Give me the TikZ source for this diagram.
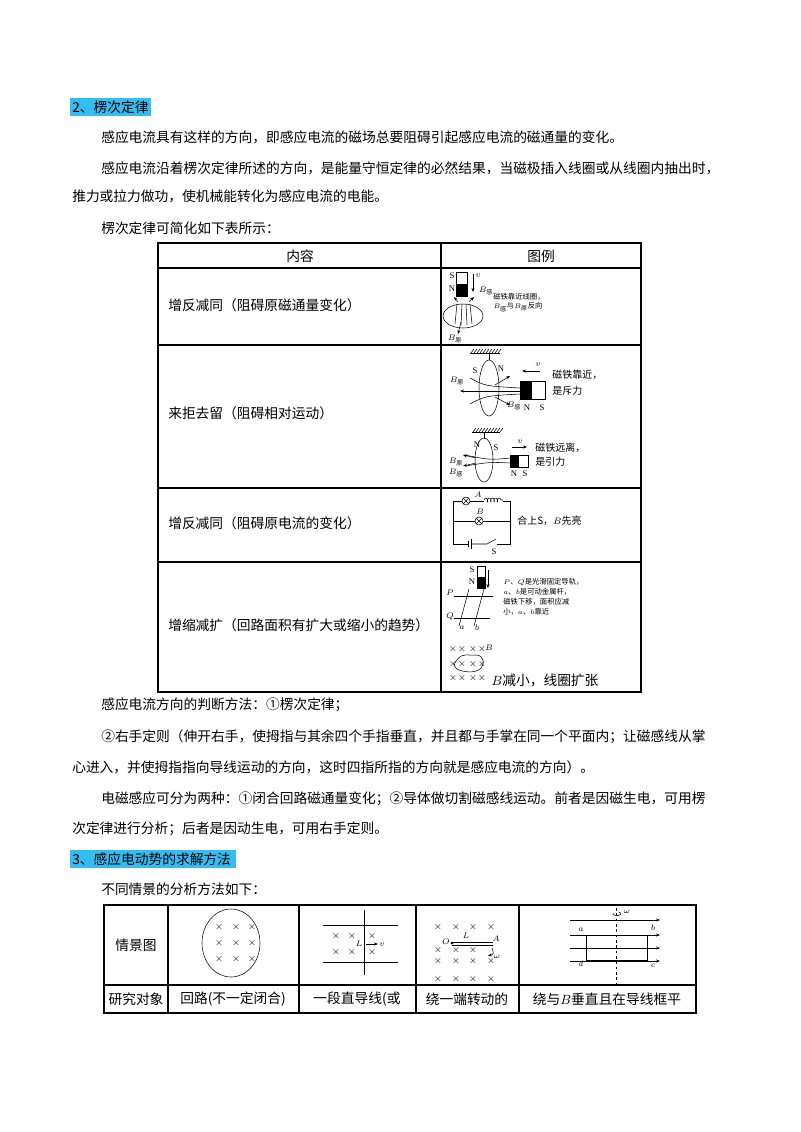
\documentclass[tikz,border=0pt]{standalone}
\usepackage{fontspec}
\setmainfont{Liberation Serif}
\newfontfamily\cjk{Noto Sans CJK SC}
\newcommand\zh[1]{\mbox{\cjk\fontsize{4.5}{5}\selectfont #1}}
\usetikzlibrary{arrows.meta,patterns,decorations.pathmorphing}
\begin{document}
\begin{tikzpicture}[x=0.75pt,y=-0.75pt,
  txt/.style={anchor=west,inner sep=0,font=\cjk\fontsize{10.3}{12}\selectfont},
  ctr/.style={inner sep=0,font=\cjk\fontsize{10.3}{12}\selectfont},
  tiny/.style={anchor=west,inner sep=0,font=\cjk\fontsize{5.5}{6.5}\selectfont},
  sm/.style={anchor=west,inner sep=0,font=\cjk\fontsize{7.5}{9}\selectfont},
  lab/.style={inner sep=0,font=\fontsize{6.5}{7}\selectfont},
  hl/.style={fill=cyan!80!white,draw=none},
  tb/.style={line width=0.8pt},
  fine/.style={line width=0.4pt},
  arr/.style={-{Stealth[length=3pt]},line width=0.4pt},
  cr/.style={inner sep=0,font=\fontsize{7}{8}\selectfont}]
\useasboundingbox[fill=white] (0,0) rectangle (800,1132);
% headings
\fill[hl] (70,98) rectangle (151,116);
\node[txt] (h2) at (72,107) {2、楞次定律};
\node[txt] (p1) at (101,137) {感应电流具有这样的方向，即感应电流的磁场总要阻碍引起感应电流的磁通量的变化。};
\node[txt] (p2) at (101,168) {感应电流沿着楞次定律所述的方向，是能量守恒定律的必然结果，当磁极插入线圈或从线圈内抽出时，};
\node[txt] (p3) at (72,196) {推力或拉力做功，使机械能转化为感应电流的电能。};
\node[txt] (p4) at (101,228) {楞次定律可简化如下表所示：};
% table 1
\draw[tb] (158,243) rectangle (641,692);
\draw[tb] (441,243) -- (441,692);
\foreach \y in {268,345,488,562} \draw[tb] (158,\y) -- (641,\y);
\node[ctr] (t0) at (300,256) {内容};
\node[ctr] (t1) at (541,256) {图例};
\node[txt] (r1) at (168,305) {增反减同（阻碍原磁通量变化）};
\node[txt] (r2) at (168,413) {来拒去留（阻碍相对运动）};
\node[txt] (r3) at (168,523) {增反减同（阻碍原电流的变化）};
\node[txt] (r4) at (168,625) {增缩减扩（回路面积有扩大或缩小的趋势）};
% row1 figure
\draw[fine] (456,272) rectangle (467,296);
\fill (456,284) rectangle (467,296);
\node[lab] (s1) at (452,276) {S};
\node[lab] (n1) at (452,289) {N};
\draw[arr] (473,274) -- (473,292);
\node[lab] (v1) at (478,276) {$v$};
\draw[fine] (463,316) ellipse (20 and 12);
\draw[fine] (457,304) -- (455,324) (462,304) -- (461,325) (466,304) -- (467,325) (470,304) -- (472,324);
\draw[arr] (458,302) -- (454,297);
\draw[arr] (469,302) -- (474,297);
\draw[arr] (461,322) -- (458,334);
\node[lab] (b1) at (486,291) {$B_{\zh{感}}$};
\node[lab] (b2) at (455,339) {$B_{\zh{原}}$};
\node[tiny] (d1) at (493,297) {磁铁靠近线圈，};
\node[tiny] (d2) at (493,307) {$B_{\zh{感}}$与$B_{\zh{原}}$反向};
% row2 upper
\draw[fine] (470,353) -- (500,353);
\foreach \x in {471,474,...,500} \draw[fine] (\x,353) -- (\x+3,349);
\draw[fine] (489,353) -- (489,360);
\draw[fine] (489,388) ellipse (10 and 28);
\draw[arr] (520,391) -- (460,391);
\draw[fine] (470,378) .. controls (485,386) .. (520,388);
\draw[fine] (470,404) .. controls (485,396) .. (520,394);
\draw[arr] (495,385) -- (510,376);
\draw[arr] (495,397) -- (510,405);
\draw[fine] (520,381) rectangle (545,399);
\fill (520,381) rectangle (532,399);
\node[lab] (s2) at (475,371) {S};
\node[lab] (n2) at (501,369) {N};
\node[lab] (b3) at (457,381) {$B_{\zh{原}}$};
\node[lab] (b4) at (514,406) {$B_{\zh{感}}$};
\node[lab] (n3) at (527,408) {N};
\node[lab] (s3) at (542,408) {S};
\draw[arr] (540,371) -- (522,371);
\node[lab] (v2) at (538,365) {$v$};
\node[sm] (d3) at (552,375) {磁铁靠近，};
\node[sm] (d4) at (552,391) {是斥力};
% row2 lower
\draw[fine] (472,432) -- (500,432);
\foreach \x in {473,476,...,500} \draw[fine] (\x,432) -- (\x+3,428);
\draw[fine] (484,432) -- (484,439);
\draw[fine] (484,460) ellipse (9 and 22);
\draw[fine] (465,455) .. controls (490,460) .. (510,458);
\draw[fine] (465,466) .. controls (490,462) .. (510,463);
\draw[arr] (476,458) -- (463,455);
\draw[arr] (476,463) -- (463,466);
\draw[fine] (510,455) rectangle (528,467);
\fill (510,455) rectangle (519,467);
\node[lab] (n4) at (477,445) {N};
\node[lab] (s4) at (496,448) {S};
\node[lab] (b5) at (456,462) {$B_{\zh{原}}$};
\node[lab] (b6) at (456,473) {$B_{\zh{感}}$};
\node[lab] (n5) at (514,474) {N};
\node[lab] (s5) at (525,474) {S};
\draw[arr] (512,447) -- (527,447);
\node[lab] (v3) at (520,442) {$v$};
\node[sm] (d5) at (535,448) {磁铁远离，};
\node[sm] (d6) at (535,462) {是引力};
% row3 circuit
\draw[fine] (453,501) -- (453,544) -- (468,544);
\draw[fine] (468,541) -- (468,547);
\draw[fine] (471,539) -- (471,549);
\draw[fine] (471,544) -- (487,544) -- (496,539);
\draw[fine] (497,544) -- (510,544) -- (510,501);
\draw[fine] (453,501) -- (462,501);
\draw[fine] (466,501) circle (4);
\draw[fine] (463,498) -- (469,504) (469,498) -- (463,504);
\draw[fine] (470,501) -- (484,501);
\draw[fine,decorate,decoration={coil,aspect=0.5,segment length=2.5pt,amplitude=1.5pt}] (484,500) -- (503,500);
\draw[fine] (503,501) -- (510,501);
\draw[fine] (453,521) -- (475,521) (483,521) -- (510,521);
\draw[fine] (479,521) circle (4);
\draw[fine] (476,518) -- (482,524) (482,518) -- (476,524);
\node[lab] (la) at (478,495) {$A$};
\node[lab] (lb) at (480,512) {$B$};
\node[lab] (ls) at (494,552) {S};
\node[sm] (d7) at (517,521) {合上S，$B$先亮};
% row4
\draw[fine] (477,566) rectangle (485,588);
\fill (477,577) rectangle (485,588);
\node[lab] (s6) at (472,570) {S};
\node[lab] (n6) at (472,582) {N};
\draw[arr] (488,570) -- (488,588);
\draw[fine] (454,596) -- (493,596);
\draw[fine] (454,618) -- (490,618);
\draw[fine] (459,626) -- (469,589);
\draw[fine] (474,626) -- (484,589);
\node[lab] (lp) at (450,593) {$P$};
\node[lab] (lq) at (450,617) {$Q$};
\node[lab] (la2) at (462,628) {$a$};
\node[lab] (lb2) at (477,628) {$b$};
\node[tiny] (d8) at (503,582) {$P$、$Q$是光滑固定导轨，};
\node[tiny] (d9) at (503,592) {$a$、$b$是可动金属杆，};
\node[tiny] (d10) at (503,602) {磁铁下移，面积应减};
\node[tiny] (d11) at (503,612) {小，$a$、$b$靠近};
\foreach \y in {649,664,678} \foreach \x in {453,462,473,482} \node[cr] at (\x,\y) {$\times$};
\node[lab] (lb3) at (489,648) {$B$};
\draw[fine] (457,660) .. controls (462,652) and (470,656) .. (476,655) .. controls (484,655) and (485,664) .. (481,668) .. controls (476,674) and (462,672) .. (457,669) .. controls (453,666) and (454,663) .. (457,660);
\node[ctr] (d12) at (545,680) {$B$减小，线圈扩张};
% paragraphs
\node[txt] (p5) at (101,705) {感应电流方向的判断方法：①楞次定律；};
\node[txt] (p6) at (101,737) {②右手定则（伸开右手，使拇指与其余四个手指垂直，并且都与手掌在同一个平面内；让磁感线从掌};
\node[txt] (p7) at (72,767) {心进入，并使拇指指向导线运动的方向，这时四指所指的方向就是感应电流的方向）。};
\node[txt] (p8) at (101,799) {电磁感应可分为两种：①闭合回路磁通量变化；②导体做切割磁感线运动。前者是因磁生电，可用楞};
\node[txt] (p9) at (72,829) {次定律进行分析；后者是因动生电，可用右手定则。};
\fill[hl] (70,850) rectangle (236,868);
\node[txt] (h3) at (72,859) {3、感应电动势的求解方法};
\node[txt] (p10) at (101,889) {不同情景的分析方法如下：};
% table 2
\draw[tb] (104,905) rectangle (696,1013);
\draw[tb] (104,985) -- (696,985);
\foreach \x in {168,299,416,519} \draw[tb] (\x,905) -- (\x,1013);
\node[ctr] (q0) at (136,945) {情景图};
\node[ctr] (q1) at (136,999) {研究对象};
\node[ctr] (q2) at (233,999) {回路(不一定闭合)};
\node[ctr] (q3) at (357,999) {一段直导线(或};
\node[ctr] (q4) at (467,999) {绕一端转动的};
\node[ctr] (q5) at (607,999) {绕与$B$垂直且在导线框平};
% cell2
\draw[fine] (231,943) ellipse (29 and 34);
\foreach \y in {927,943,959} \foreach \x in {219,236,252} \node[cr] at (\x,\y) {$\times$};
% cell3
\draw[fine] (323,925) -- (398,925);
\draw[fine] (323,962) -- (398,962);
\draw[fine] (364,910) -- (364,975);
\foreach \x in {336,352,372} \node[cr] at (\x,936) {$\times$};
\foreach \x in {336,352,372} \node[cr] at (\x,952) {$\times$};
\node[lab] (ll) at (359,944) {$L$};
\draw[arr] (366,944) -- (378,944);
\node[lab] (lv) at (382,945) {$v$};
% cell4
\foreach \y in {927,961,979} \foreach \x in {438,456,473,491} \node[cr] at (\x,\y) {$\times$};
\foreach \x in {438,456,473} \node[cr] at (\x,950) {$\times$};
\fill (452,943) circle (1.5);
\draw[fine] (452,942) -- (493,942) (452,945) -- (493,945);
\node[lab] (lo) at (446,942) {$O$};
\node[lab] (ll2) at (466,936) {$L$};
\node[lab] (lA) at (496,939) {$A$};
\draw[arr] (492,948) .. controls (494,954) .. (488,956);
\node[lab] (lw) at (497,957) {$\omega$};
% cell5
\draw[fine,dash pattern=on 2pt off 2pt] (616,908) -- (616,983);
\draw[fine] (613,913) arc (200:-60:4 and 2);
\node[lab] (lw2) at (627,912) {$\omega$};
\foreach \y in {920,935,948,961} \draw[arr] (570,\y) -- (660,\y);
\draw[fine] (586,935) rectangle (647,960);
\node[lab] (ca) at (581,930) {$a$};
\node[lab] (cb) at (653,928) {$b$};
\node[lab] (cd) at (581,964) {$d$};
\node[lab] (cc) at (653,966) {$c$};
\end{tikzpicture}
\end{document}
